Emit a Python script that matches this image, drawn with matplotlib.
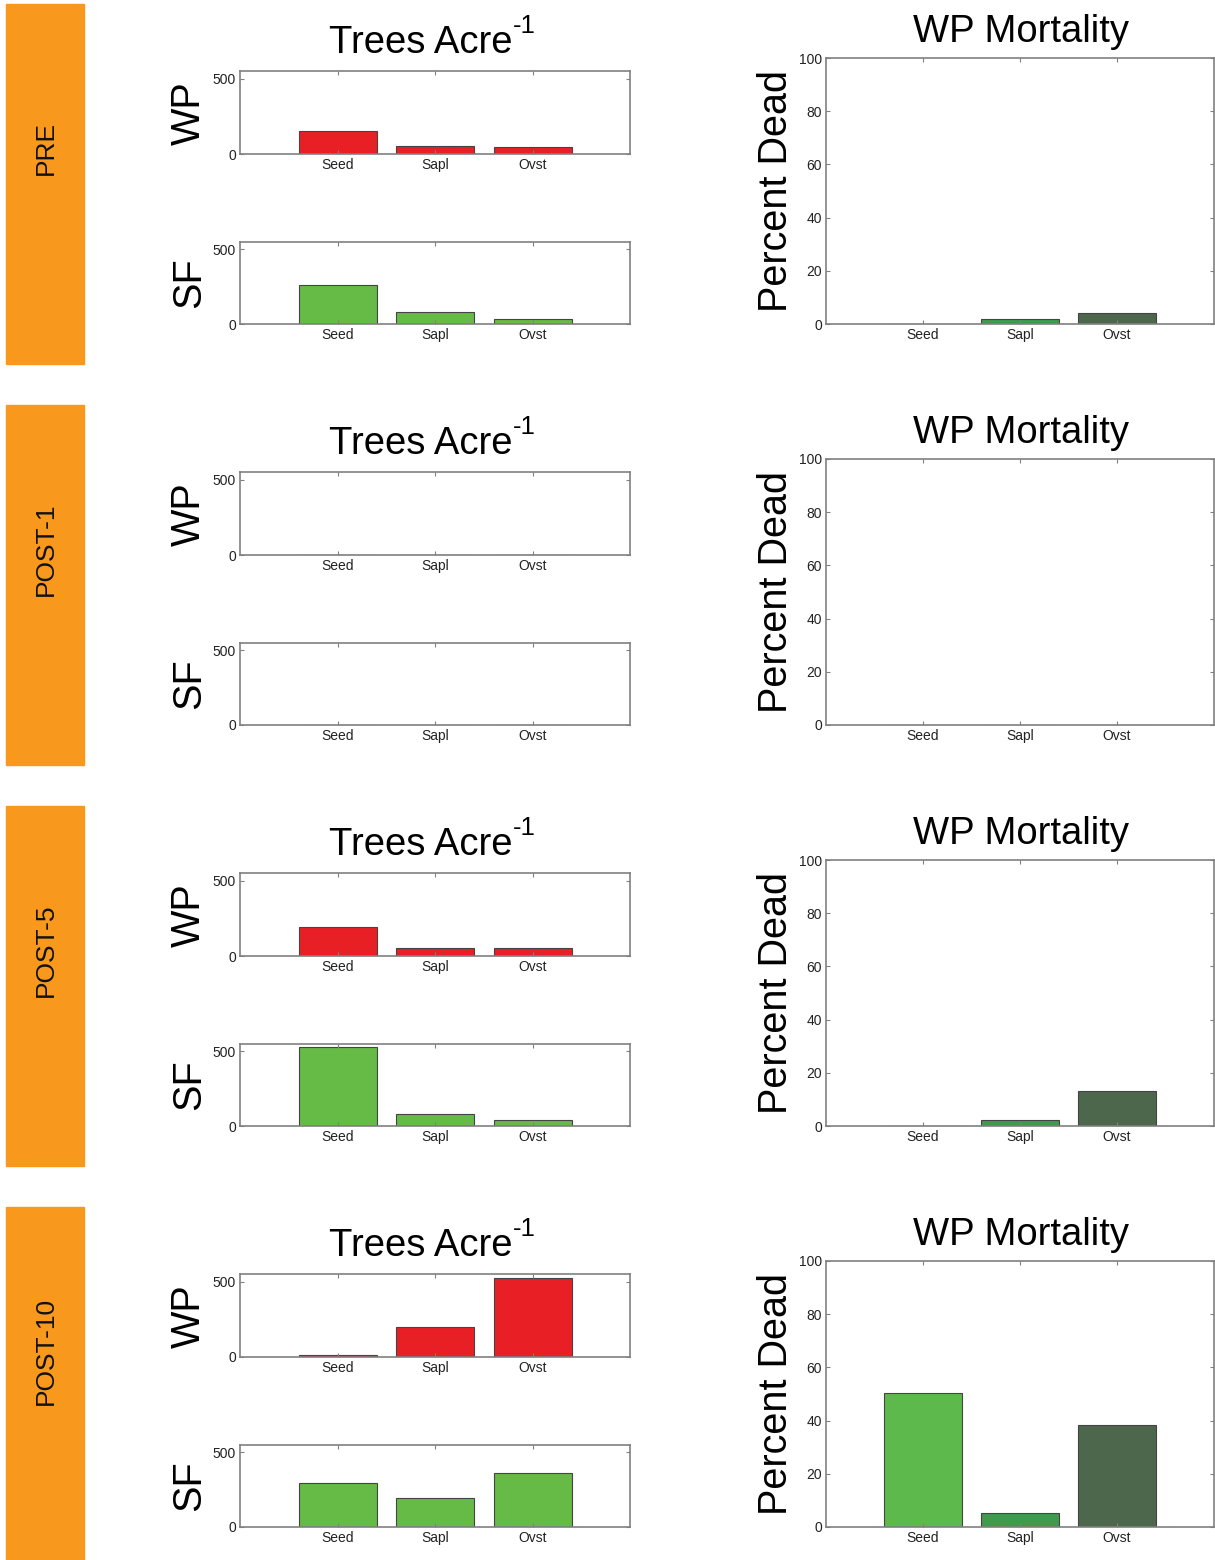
import matplotlib
matplotlib.use('Agg')
import matplotlib.pyplot as plt
from matplotlib.patches import Rectangle

plt.rcParams['font.family'] = ['Liberation Sans', 'DejaVu Sans']

# data
categories = ['Seed', 'Sapl', 'Ovst']
periods = ['PRE', 'POST-1', 'POST-5', 'POST-10']
wp_density = [[152, 53, 46], [0, 0, 0], [190, 50, 50], [10, 199, 522]]
sf_density = [[261, 80, 34], [0, 0, 0], [532, 80, 40], [295, 195, 365]]
wp_mortality = [[0, 1.9, 4.1], [0, 0, 0], [0, 2.3, 13.2], [50.2, 5.3, 38.3]]

W, H = 1215, 1560
red = '#E81F25'
sf_green = '#65BB45'
mort_colors = ['#5DB94B', '#3F9A4B', '#4C674C']
orange = '#F8981D'
spine_col = '#808080'


def px_rect(x0, y0, x1, y1):
    return [x0 / W, 1 - y1 / H, (x1 - x0) / W, (y1 - y0) / H]


def style_axes(ax, yticks, ylim):
    ax.set_xlim(0, 4)
    ax.set_ylim(*ylim)
    ax.set_xticks([1, 2, 3])
    ax.set_xticklabels(categories)
    ax.set_yticks(yticks)
    for s in ax.spines.values():
        s.set_color(spine_col)
        s.set_linewidth(1.2)
    ax.tick_params(direction='in', length=3, width=0.8, color=spine_col,
                   top=True, right=True, labelsize=10, labelcolor='#222222', pad=3)


fig = plt.figure(figsize=(W / 100, H / 100), dpi=100)

for i, period in enumerate(periods):
    off = i * 401

    # orange side band with period label
    fig.add_artist(Rectangle((6 / W, 1 - (off + 364) / H), 78 / W, 360 / H,
                             transform=fig.transFigure, color=orange, zorder=0))
    fig.text(46 / W, 1 - (off + 148) / H, period, rotation=90, ha='center', va='center',
             fontsize=19, color='#111111')

    # density panels
    ax_wp = fig.add_axes(px_rect(240, off + 71, 630, off + 154))
    ax_wp.bar([1, 2, 3], wp_density[i], width=0.8, color=red, edgecolor='#444444', linewidth=0.8)
    style_axes(ax_wp, [0, 500], (0, 550))

    ax_sf = fig.add_axes(px_rect(240, off + 242, 630, off + 324))
    ax_sf.bar([1, 2, 3], sf_density[i], width=0.8, color=sf_green, edgecolor='#444444', linewidth=0.8)
    style_axes(ax_sf, [0, 500], (0, 550))

    fig.text(421 / W, 1 - (off + 53) / H, 'Trees Acre', ha='center', va='baseline', fontsize=27.5)
    fig.text(513 / W, 1 - (off + 33) / H, '-1', ha='left', va='baseline', fontsize=18.5)
    fig.text(189 / W, 1 - (off + 113) / H, 'WP', rotation=90, ha='center', va='center', fontsize=28.5)
    fig.text(189 / W, 1 - (off + 283) / H, 'SF', rotation=90, ha='center', va='center', fontsize=28.5)

    # mortality panel
    ax_m = fig.add_axes(px_rect(826, off + 58, 1214, off + 324))
    ax_m.bar([1, 2, 3], wp_mortality[i], width=0.8, color=mort_colors, edgecolor='#444444', linewidth=0.8)
    style_axes(ax_m, [0, 20, 40, 60, 80, 100], (0, 100))

    fig.text(1021 / W, 1 - (off + 42) / H, 'WP Mortality', ha='center', va='baseline', fontsize=27.5)
    fig.text(776 / W, 1 - (off + 191) / H, 'Percent Dead', rotation=90, ha='center', va='center', fontsize=28.5)

fig.savefig('out.png', dpi=100)
